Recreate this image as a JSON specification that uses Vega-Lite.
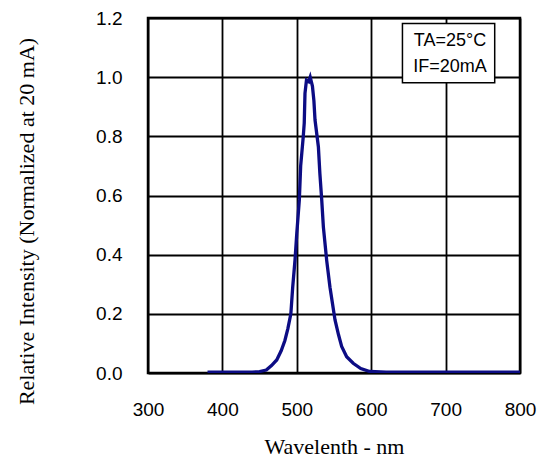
{
  "$schema": "https://vega.github.io/schema/vega-lite/v6.json",
  "width": 372,
  "height": 355,
  "autosize": "none",
  "padding": {"left": 148, "top": 18, "right": 26, "bottom": 87},
  "background": "white",
  "config": {
    "view": {"stroke": "black", "strokeWidth": 2.5},
    "axis": {
      "grid": true, "gridColor": "black", "gridWidth": 1.8, "gridOpacity": 1,
      "domain": false, "ticks": false, "labelFlush": false, "labelOverlap": false,
      "labelFont": "Liberation Sans", "labelFontSize": 19, "labelColor": "black",
      "titleFont": "Liberation Serif", "titleFontWeight": "normal", "titleColor": "black"
    }
  },
  "datasets": {
    "spectrum": [
      {"wl": 380, "ri": 0.003}, {"wl": 400, "ri": 0.003}, {"wl": 420, "ri": 0.003},
      {"wl": 440, "ri": 0.003}, {"wl": 450, "ri": 0.005}, {"wl": 459, "ri": 0.01},
      {"wl": 466, "ri": 0.025}, {"wl": 473, "ri": 0.044}, {"wl": 479, "ri": 0.075},
      {"wl": 484, "ri": 0.11}, {"wl": 488, "ri": 0.15}, {"wl": 492, "ri": 0.2},
      {"wl": 494.5, "ri": 0.29}, {"wl": 497.6, "ri": 0.382}, {"wl": 500, "ri": 0.473},
      {"wl": 503.4, "ri": 0.585}, {"wl": 505.2, "ri": 0.7}, {"wl": 508.7, "ri": 0.8},
      {"wl": 510, "ri": 0.845}, {"wl": 511, "ri": 0.945}, {"wl": 513, "ri": 0.99},
      {"wl": 516, "ri": 0.985}, {"wl": 518, "ri": 1.0}, {"wl": 521, "ri": 0.97},
      {"wl": 523, "ri": 0.92}, {"wl": 524.5, "ri": 0.855}, {"wl": 529, "ri": 0.765},
      {"wl": 531, "ri": 0.675}, {"wl": 533.5, "ri": 0.585}, {"wl": 535.7, "ri": 0.494},
      {"wl": 540.2, "ri": 0.38}, {"wl": 544.6, "ri": 0.29}, {"wl": 551.3, "ri": 0.18},
      {"wl": 556, "ri": 0.13}, {"wl": 560.3, "ri": 0.09}, {"wl": 567, "ri": 0.055},
      {"wl": 575.8, "ri": 0.033}, {"wl": 586, "ri": 0.015}, {"wl": 598, "ri": 0.005},
      {"wl": 620, "ri": 0.003}, {"wl": 700, "ri": 0.003}, {"wl": 800, "ri": 0.003}
    ],
    "legend": [
      {"label": "TA=25°C", "wl": 706, "ri": 1.122},
      {"label": "IF=20mA", "wl": 706, "ri": 1.035}
    ]
  },
  "layer": [
    {
      "data": {"name": "spectrum"},
      "mark": {"type": "line", "color": "#0c0c84", "strokeWidth": 3.3, "clip": true},
      "encoding": {
        "x": {
          "field": "wl", "type": "quantitative",
          "scale": {"domain": [300, 800], "nice": false, "zero": false},
          "axis": {"values": [300, 400, 500, 600, 700, 800], "labelPadding": 27,
                   "title": "Wavelenth - nm", "titleFontSize": 22,
                   "titleX": 186, "titleY": 80, "titleAlign": "center", "titleBaseline": "alphabetic"}
        },
        "y": {
          "field": "ri", "type": "quantitative",
          "scale": {"domain": [0, 1.2], "nice": false},
          "axis": {"values": [0, 0.2, 0.4, 0.6, 0.8, 1.0, 1.2], "format": ".1f", "labelPadding": 26,
                   "title": "Relative Intensity (Normalized at 20 mA)", "titleFontSize": 22,
                   "titleX": -115, "titleY": 203, "titleAngle": 270, "titleAlign": "center", "titleBaseline": "alphabetic"}
        }
      }
    },
    {
      "data": {"values": [{}]},
      "mark": {"type": "rect", "fill": "white", "stroke": "black", "strokeWidth": 1.5},
      "encoding": {
        "x": {"datum": 642, "type": "quantitative"},
        "x2": {"datum": 766},
        "y": {"datum": 1.181, "type": "quantitative"},
        "y2": {"datum": 0.981}
      }
    },
    {
      "data": {"name": "legend"},
      "mark": {"type": "text", "font": "Liberation Sans", "fontSize": 18, "color": "black", "align": "center", "baseline": "middle"},
      "encoding": {
        "x": {"field": "wl", "type": "quantitative"},
        "y": {"field": "ri", "type": "quantitative"},
        "text": {"field": "label"}
      }
    }
  ]
}
